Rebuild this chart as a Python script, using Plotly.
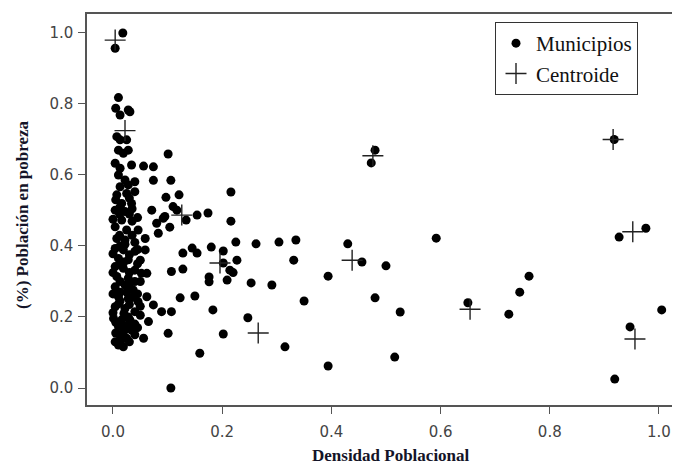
import plotly.graph_objects as go

# Municipios (Densidad Poblacional, % Población en pobreza)
muni_x = [
    0.018, 0.004,
    0.010, 0.005, 0.028, 0.013, 0.031,
    0.007, 0.013, 0.025,
    0.010, 0.028, 0.019,
    0.004, 0.013, 0.034, 0.056, 0.074, 0.101,
    0.010, 0.022, 0.040, 0.074, 0.106,
    0.013, 0.028, 0.007, 0.025, 0.040, 0.016, 0.034, 0.004, 0.022,
    0.097, 0.121, 0.071, 0.110, 0.117, 0.095, 0.080, 0.083, 0.104, 0.092,
    0.016, 0.004, 0.025, 0.046, 0.059, 0.007, 0.022, 0.004, 0.019, 0.059,
    0.010, 0.028, 0.004, 0.019, 0.040, 0.062, 0.107, 0.007, 0.028,
    0.052, 0.004, 0.022, 0.037, 0.010, 0.028, 0.062, 0.046, 0.004, 0.022,
    0.074, 0.040, 0.089, 0.107, 0.001, 0.016, 0.031, 0.065, 0.010, 0.034,
    0.056, 0.101, 0.004, 0.010, 0.019,
    0.013, 0.030, 0.013, 0.030, 0.013, 0.035, 0.013, 0.028, 0.022, 0.040,
    0.025, 0.012, 0.045, 0.050, 0.050, 0.045, 0.030, 0.012,
    0.005, 0.030, 0.013, 0.035, 0.000, 0.035, 0.012, 0.035, 0.022, 0.040,
    0.000, 0.040, 0.020, 0.045, 0.000, 0.030, 0.013, 0.040, 0.000, 0.025,
    0.045, 0.010, 0.030, 0.050, 0.000, 0.020, 0.050, 0.005, 0.030, 0.045,
    0.005, 0.020, 0.040, 0.015, 0.030,
    0.216, 0.216, 0.134, 0.154, 0.174, 0.128, 0.145, 0.154, 0.180, 0.202,
    0.225, 0.262, 0.304, 0.335, 0.227, 0.202, 0.214, 0.220, 0.128, 0.176,
    0.176, 0.209, 0.253, 0.291, 0.331, 0.394, 0.123, 0.150, 0.183, 0.247,
    0.202, 0.315, 0.159, 0.394, 0.350, 0.430, 0.106,
    0.480, 0.473, 0.918, 0.592, 0.456, 0.500, 0.480, 0.526, 0.516, 0.650,
    0.725, 0.745, 0.762, 0.927, 0.976, 1.005, 0.947, 0.919,
]
muni_y = [
    1.000, 0.957,
    0.818, 0.788, 0.783, 0.769, 0.778,
    0.708, 0.699, 0.699,
    0.670, 0.670, 0.661,
    0.633, 0.619, 0.628, 0.625, 0.623, 0.659,
    0.600, 0.586, 0.581, 0.585, 0.585,
    0.567, 0.572, 0.544, 0.548, 0.553, 0.520, 0.520, 0.501, 0.497,
    0.537, 0.544, 0.501, 0.511, 0.501, 0.483, 0.464, 0.436, 0.453, 0.478,
    0.473, 0.454, 0.445, 0.445, 0.421, 0.421, 0.417, 0.393, 0.389, 0.389,
    0.365, 0.361, 0.342, 0.337, 0.332, 0.323, 0.328, 0.314, 0.309,
    0.323, 0.285, 0.290, 0.276, 0.257, 0.252, 0.257, 0.243, 0.229, 0.224,
    0.234, 0.215, 0.215, 0.215, 0.196, 0.192, 0.192, 0.187, 0.173, 0.163,
    0.140, 0.154, 0.130, 0.121, 0.116,
    0.400, 0.375, 0.350, 0.290, 0.270, 0.255, 0.245, 0.200, 0.175, 0.180,
    0.140, 0.150, 0.390, 0.360, 0.300, 0.480, 0.490, 0.490,
    0.530, 0.535, 0.510, 0.505, 0.475, 0.470, 0.430, 0.430, 0.405, 0.410,
    0.378, 0.385, 0.355, 0.350, 0.325, 0.325, 0.300, 0.300, 0.265, 0.270,
    0.265, 0.237, 0.235, 0.230, 0.212, 0.210, 0.205, 0.185, 0.180, 0.170,
    0.155, 0.160, 0.150, 0.135, 0.130,
    0.552, 0.470, 0.473, 0.487, 0.493, 0.380, 0.394, 0.380, 0.397, 0.386,
    0.411, 0.406, 0.411, 0.417, 0.360, 0.352, 0.332, 0.325, 0.335, 0.313,
    0.299, 0.304, 0.296, 0.290, 0.360, 0.315, 0.254, 0.259, 0.220, 0.198,
    0.152, 0.116, 0.098, 0.062, 0.245, 0.406, 0.000,
    0.670, 0.634, 0.700, 0.422, 0.355, 0.344, 0.254, 0.214, 0.087, 0.240,
    0.208, 0.270, 0.315, 0.425, 0.450, 0.220, 0.172, 0.025,
]

# Centroides
cent_x = [0.004, 0.022, 0.126, 0.196, 0.266, 0.438, 0.476, 0.916, 0.952, 0.956, 0.654]
cent_y = [0.980, 0.725, 0.487, 0.352, 0.155, 0.360, 0.654, 0.700, 0.440, 0.138, 0.222]

x_ticks = [0.0, 0.2, 0.4, 0.6, 0.8, 1.0]
y_ticks = [0.0, 0.2, 0.4, 0.6, 0.8, 1.0]

fig = go.Figure()
fig.add_trace(go.Scatter(
    x=muni_x, y=muni_y, mode="markers", name="Municipios",
    marker=dict(color="black", size=9, line=dict(width=0)),
))
fig.add_trace(go.Scatter(
    x=cent_x, y=cent_y, mode="markers", name="Centroide",
    marker=dict(symbol="cross-thin", color="#222222", size=15,
                line=dict(color="#222222", width=1.4)),
))

serif = "Liberation Serif, Times New Roman, serif"
title_color = "#141428"
# page body adds an 8px offset; plot area spans screen x 87..680, y 14..405
fig.update_layout(
    width=672, height=456,
    margin=dict(l=79, r=0, t=6, b=59),
    paper_bgcolor="white", plot_bgcolor="white",
    showlegend=True,
    legend=dict(
        x=(495 - 87) / 593, y=(405 - 22) / 391, xanchor="left", yanchor="top",
        bgcolor="white", bordercolor="#333333", borderwidth=1,
        font=dict(family=serif, size=21, color="#111111"),
        itemsizing="trace", tracegroupgap=0,
        entrywidth=200, entrywidthmode="pixels",
    ),
    xaxis=dict(
        range=[-0.0476, 1.0385], tickvals=x_ticks, tickformat=".1f",
        showgrid=False, zeroline=False, automargin=False,
        showline=True, linecolor="#555555", linewidth=1.5, mirror=True,
        ticks="outside", ticklen=7, tickcolor="#555555", tickwidth=1.2,
        ticklabelstandoff=5,
        tickfont=dict(family="DejaVu Sans", size=15, color="#444444"),
    ),
    yaxis=dict(
        range=[-0.0479, 1.0535], tickvals=y_ticks, tickformat=".1f",
        showgrid=False, zeroline=False, automargin=False,
        showline=True, linecolor="#555555", linewidth=1.5, mirror=False,
        ticks="outside", ticklen=7, tickcolor="#555555", tickwidth=1.2,
        ticklabelstandoff=2,
        tickfont=dict(family="DejaVu Sans", size=15, color="#444444"),
    ),
    annotations=[
        dict(text="<b>Densidad Poblacional</b>", xref="paper", yref="paper",
             x=(391 - 87) / 593, y=(405 - 455) / 391, xanchor="center", yanchor="middle",
             showarrow=False, font=dict(family=serif, size=17, color=title_color)),
        dict(text="<b>(%) Población en pobreza</b>", xref="paper", yref="paper",
             x=(22 - 87) / 593, y=(405 - 215) / 391, xanchor="center", yanchor="middle",
             textangle=-90, showarrow=False,
             font=dict(family=serif, size=17, color=title_color)),
    ],
)

fig.write_html("out.html")
